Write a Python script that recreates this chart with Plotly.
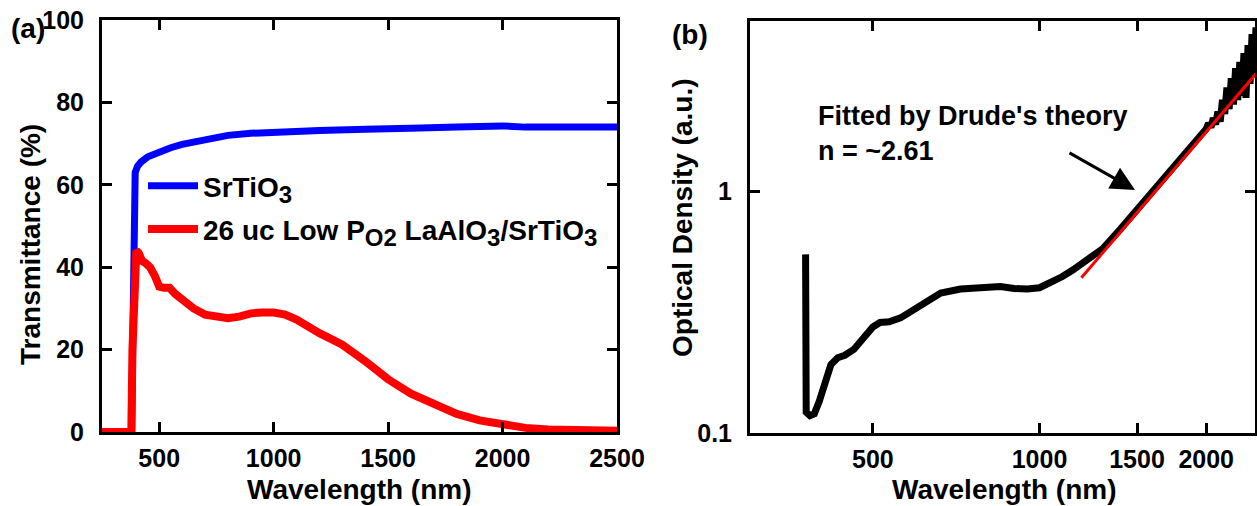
import numpy as np
import plotly.graph_objects as go

# ---------------- data: panel (a) ----------------
sto_wl = [250, 370, 380, 384, 387, 390, 395, 405, 420, 450, 500, 550, 600, 700, 800,
          900, 1000, 1200, 1400, 1500, 1600, 1800, 2000, 2100, 2200, 2400, 2500]
sto_T = [0, 0, 0, 20, 45, 60, 63, 64.5, 65.5, 66.8, 68, 69, 69.8, 71, 72,
         72.5, 72.8, 73.2, 73.5, 73.8, 73.7, 74, 74.3, 74, 73.9, 74.1, 74]

lao_wl = [250, 372, 378, 383, 390, 400, 410, 425, 440, 460, 480, 500, 520, 545, 570,
          600, 650, 700, 750, 800, 850, 900, 950, 1000, 1050, 1100, 1200, 1300, 1400,
          1500, 1600, 1700, 1800, 1900, 2000, 2100, 2200, 2300, 2400, 2500]
lao_T = [0, 0, 0, 20, 40, 44, 43.5, 41.5, 41, 40, 38, 35.3, 35, 35, 33.5,
         32, 30, 28.5, 27.8, 27.6, 28, 28.8, 29, 29, 28.5, 27.3, 24, 21.2, 17.2,
         12.8, 9.3, 6.6, 4.4, 2.8, 1.7, 1.0, 0.6, 0.4, 0.3, 0.3]

# ---------------- data: panel (b) ----------------
od_wl = [378, 379, 385, 392, 400, 410, 420, 432, 445, 462, 480, 500, 515, 535, 561,
         610, 663, 720, 780, 850, 900, 950, 1000, 1050, 1100, 1150, 1200, 1250, 1300,
         1400, 1500, 1600, 1700, 1800, 1900, 2000, 2020, 2040, 2060, 2080, 2100, 2120,
         2140, 2160, 2180, 2200, 2220, 2240, 2260, 2280, 2300, 2320, 2340, 2360, 2380,
         2400, 2420, 2440, 2460, 2480, 2500]
od_val = [0.55, 0.122, 0.118, 0.12, 0.135, 0.16, 0.192, 0.205, 0.21, 0.222, 0.245, 0.275,
          0.287, 0.289, 0.30, 0.34, 0.38, 0.395, 0.403, 0.405, 0.397, 0.395, 0.40, 0.42,
          0.445, 0.475, 0.51, 0.545, 0.58, 0.70, 0.84, 0.99, 1.17, 1.37, 1.58, 1.82,
          1.92, 1.85, 2.02, 1.9, 2.15, 1.95, 2.4, 2.1, 2.7, 2.2, 2.95, 2.3, 3.25, 2.4,
          3.45, 2.5, 3.75, 2.45, 4.05, 2.8, 4.5, 3.0, 4.8, 3.2, 4.6]

fit_wl = [1190, 1500, 2000, 2500]
fit_od = [0.44, 0.82, 1.77, 3.22]

x_major_a = [500, 1000, 1500, 2000, 2500]
x_minor_a = [750, 1250, 1750, 2250]
y_major_a = [0, 20, 40, 60, 80, 100]
y_minor_a = [10, 30, 50, 70, 90]

x_major_b = [500, 1000, 1500, 2000]
x_minor_b = [w for w in range(300, 2451, 50) if w not in x_major_b]
y_major_b = [0.1, 1]
y_major_b_text = ["0.1", "1"]
y_minor_b = [0.2, 0.3, 0.4, 0.5, 0.6, 0.7, 0.8, 0.9, 2, 3, 4, 5]

W, H = 1257, 506
FONT = "Liberation Sans, Arial, sans-serif"

def px_x(p):
    return p / W

def px_y(p):
    return 1 - p / H

def sub(t):
    return '<sub><span style="font-size:24px">' + t + '</span></sub>'

XA_DOM = [px_x(102), px_x(617)]
YA_DOM = [px_y(432), px_y(20)]
XB_DOM = [px_x(750), px_x(1255)]
YB_DOM = [px_y(433), px_y(21)]
XA_RANGE = [250, 2500]
YA_RANGE = [0, 100]
XB_RANGE = [np.log10(300), np.log10(2450)]
YB_RANGE = [-1, np.log10(5.1)]

fig = go.Figure()
fig.add_trace(go.Scatter(x=sto_wl, y=sto_T, mode="lines",
                         name="SrTiO" + sub("3"),
                         line=dict(color="#0000FF", width=7), xaxis="x", yaxis="y",
                         legendgroup="a"))
fig.add_trace(go.Scatter(x=lao_wl, y=lao_T, mode="lines",
                         name="26 uc Low P" + sub("O2") + " LaAlO" + sub("3") + "/SrTiO" + sub("3"),
                         line=dict(color="#FF0000", width=8), xaxis="x", yaxis="y",
                         legendgroup="b"))
fig.add_trace(go.Scatter(x=od_wl, y=od_val, mode="lines", showlegend=False,
                         line=dict(color="black", width=7), xaxis="x2", yaxis="y2"))
fig.add_trace(go.Scatter(x=fit_wl, y=fit_od, mode="lines", showlegend=False,
                         line=dict(color="#FF0000", width=3), xaxis="x2", yaxis="y2"))

major = dict(showgrid=False, zeroline=False, showline=True, linecolor="black",
             linewidth=3, ticks="inside", ticklen=10, tickwidth=3, tickcolor="black",
             mirror="ticks", tickfont=dict(size=25, color="black"), tickmode="array",
             fixedrange=True)
minor = dict(showgrid=False, zeroline=False, showline=False, ticks="inside",
             ticklen=5, tickwidth=3, tickcolor="black", mirror="ticks",
             showticklabels=False, tickmode="array", fixedrange=True)

fig.update_layout(
    width=W, height=H, margin=dict(l=0, r=0, t=0, b=0, autoexpand=False),
    autosize=False,
    paper_bgcolor="white", plot_bgcolor="white",
    font=dict(family=FONT, size=25, color="black", weight="bold"),
    xaxis=dict(domain=XA_DOM, range=XA_RANGE, anchor="y", tickvals=x_major_a,
               ticklabelstandoff=2, **major),
    yaxis=dict(domain=YA_DOM, range=YA_RANGE, anchor="x", tickvals=y_major_a,
               ticklabelstandoff=10, **major),
    xaxis2=dict(domain=XB_DOM, type="log", range=XB_RANGE, anchor="y2",
                tickvals=x_major_b, ticktext=[str(v) for v in x_major_b],
                ticklabelstandoff=2, **major),
    yaxis2=dict(domain=YB_DOM, type="log", range=YB_RANGE, anchor="x2",
                tickvals=y_major_b, ticktext=y_major_b_text,
                ticklabelstandoff=10, **major),
    xaxis3=dict(domain=XA_DOM, range=XA_RANGE, anchor="y", overlaying="x",
                tickvals=x_minor_a, **minor),
    yaxis3=dict(domain=YA_DOM, range=YA_RANGE, anchor="x", overlaying="y",
                tickvals=y_minor_a, **minor),
    xaxis4=dict(domain=XB_DOM, type="log", range=XB_RANGE, anchor="y2", overlaying="x2",
                tickvals=x_minor_b, **minor),
    yaxis4=dict(domain=YB_DOM, type="log", range=YB_RANGE, anchor="x2", overlaying="y2",
                tickvals=y_minor_b, **minor),
    legend=dict(x=px_x(143), y=px_y(161), xanchor="left", yanchor="top",
                bgcolor="rgba(0,0,0,0)", borderwidth=0, tracegroupgap=4,
                font=dict(size=28, color="black"), itemwidth=50),
    showlegend=True,
)

annots = [
    dict(text="(a)", x=px_x(9), y=px_y(28), xanchor="left", yanchor="middle",
         font=dict(size=28)),
    dict(text="(b)", x=px_x(670), y=px_y(34), xanchor="left", yanchor="middle",
         font=dict(size=28)),
    dict(text="Transmittance (%)", x=px_x(30), y=px_y(245), textangle=-90,
         xanchor="center", yanchor="middle", font=dict(size=28)),
    dict(text="Wavelength (nm)", x=px_x(359), y=px_y(489), xanchor="center",
         yanchor="middle", font=dict(size=28)),
    dict(text="Optical Density (a.u.)", x=px_x(683), y=px_y(218), textangle=-90,
         xanchor="center", yanchor="middle", font=dict(size=28)),
    dict(text="Wavelength (nm)", x=px_x(1005), y=px_y(489), xanchor="center",
         yanchor="middle", font=dict(size=28)),
    dict(text="Fitted by Drude's theory<br>n = ~2.61", x=px_x(816), y=px_y(133),
         xanchor="left", yanchor="middle", align="left", font=dict(size=27)),
]
for a in annots:
    a.update(xref="paper", yref="paper", showarrow=False)
    fig.add_annotation(**a)

fig.add_annotation(xref="paper", yref="paper", x=px_x(1135), y=px_y(190),
                   ax=-67, ay=-38, axref="pixel", ayref="pixel", text="",
                   showarrow=True, arrowhead=2, arrowsize=1.6, arrowwidth=3,
                   arrowcolor="black")

fig.write_html("out.html", config={"responsive": False, "displayModeBar": False},
               post_script="document.body.style.margin='0px';")
